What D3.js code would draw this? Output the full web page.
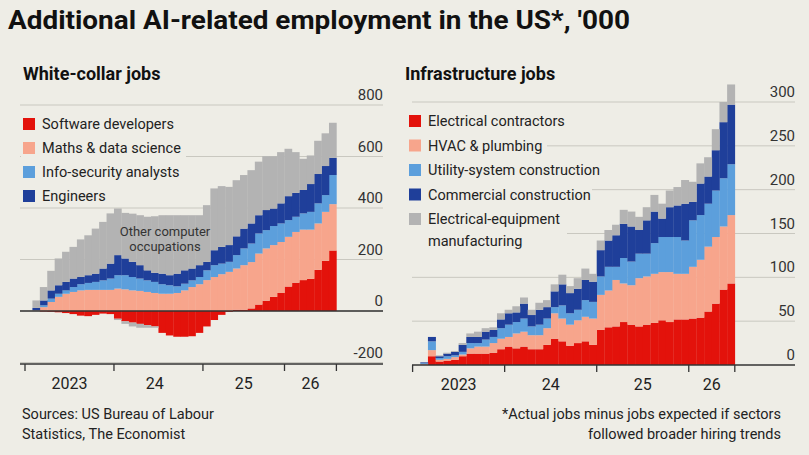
<!DOCTYPE html>
<html><head><meta charset="utf-8">
<script src="https://cdn.jsdelivr.net/npm/d3@7"></script>
<style>body{margin:0;background:#eeede6;}svg{display:block;font-family:Roboto,"Noto Sans",sans-serif;}</style>
</head><body><svg id="c" width="809" height="455"></svg>
<script>
// ---- data (thousands), months 1..41 from Feb 2023 ----
const months = d3.range(1, 42);
// White-collar
const software = [0,-2,-3,-5,-8,-12,-18,-20,-15,-10,-12,-30,-40,-45,-50,-55,-60,-85,-95,-100,-100,-98,-85,-60,-35,-15,-3,5,5,10,25,40,55,70,95,110,120,125,160,195,235];
const maths = [2,15,35,55,67,74,80,82,82,82,82,87,84,80,78,74,70,67,67,70,80,93,104,120,132,143,152,160,173,180,198,203,201,198,193,197,196,191,180,190,180];
const infosec = [1,7,13,12,13,19,24,27,31,37,44,52,55,52,48,45,43,37,33,26,26,26,28,38,46,41,39,52,65,72,78,71,74,72,65,59,63,69,78,65,113];
const engineers = [9,19,32,33,33,33,28,30,32,46,58,78,65,59,52,39,35,41,39,49,52,46,46,33,58,65,65,73,77,78,71,78,68,78,93,93,91,108,114,113,67];
const otherComp = [29,52,76,104,117,123,146,155,175,181,195,181,177,187,194,208,220,227,233,227,214,207,194,220,240,236,226,218,208,207,208,209,203,199,184,158,121,111,129,127,136];
const otherCompNeg = [0,0,0,0,0,0,0,0,0,0,0,-5,-10,-15,-15,-10,-5,0,0,0,0,0,0,0,0,0,0,0,0,0,0,0,0,0,0,0,0,0,0,0,0];
// Infrastructure
const electrical = [0,10,4,5,6,10,13,13,13,14,18,21,19,21,18,18,23,30,27,22,25,27,23,40,43,44,49,46,44,46,48,51,49,52,52,53,54,61,70,86,93];
const hvac = [1,7,2,2,3,2,6,8,8,11,12,11,17,17,16,16,19,29,26,24,26,28,30,40,42,53,44,45,55,55,56,55,57,52,52,59,66,74,76,72,78];
const utility = [1,10,2,3,2,3,6,4,8,7,12,14,13,15,10,12,11,7,15,13,12,19,19,21,27,15,29,27,28,26,35,40,40,42,38,53,51,49,53,55,58];
const commercial = [1,5,2,3,4,8,7,7,9,8,10,13,11,17,13,17,13,18,24,23,24,23,23,30,30,36,39,40,27,38,36,21,34,36,42,21,36,31,46,64,68];
const elecEquip = [0,0,1,1,1,2,4,6,4,3,7,4,7,7,6,8,8,8,11,8,12,13,9,11,12,12,16,17,15,15,19,17,19,21,27,23,23,22,24,23,23];

const leftTicks = [{m:0},{m:12},{m:24},{m:35},{m:42}];
const leftTickLabels = [{t:"2023",m:6},{t:"24",m:17.5},{t:"25",m:29.5},{t:"26",m:38.5}];
const rightTicks = [0,12,24,36,42];
const rightTickLabels = [{t:"2023",m:6},{t:"24",m:18},{t:"25",m:30},{t:"26",m:39}];
const leftY = [800,600,400,200,0,-200];
const rightY = [300,250,200,150,100,50,0];

const C = {red:"#e3120b",salmon:"#f7a58c",lblue:"#5c9fdc",dblue:"#1f3f9a",grey:"#b3b3b3"};

const svg = d3.select("#c");
svg.append("text").attr("x",8).attr("y",29).attr("font-size",26).attr("font-weight",700)
  .attr("fill","#111").attr("textLength",622).attr("lengthAdjust","spacingAndGlyphs")
  .text("Additional AI-related employment in the US*, '000");

function panel(o){
  const g = svg.append("g");
  const x = d3.scaleLinear().domain([0,42]).range(o.xr);
  const y = d3.scaleLinear().domain(o.yd).range(o.yr);
  // gridlines
  o.yticks.forEach(v=>{
    if(v!==o.axisAt){
      g.append("line").attr("x1",o.gx[0]).attr("x2",o.gx[1]).attr("y1",y(v)).attr("y2",y(v)).attr("stroke","#c9c8c0").attr("stroke-width",1);
    }
    g.append("text").attr("x",o.gx[1]).attr("y",y(v)-5).attr("text-anchor","end").attr("font-size",15).attr("fill","#333").text(v);
  });
  // legend bg + items
  const lg = g.append("g");
  o.legend.forEach((l,i)=>{
    const yy = o.ly + i*o.ldy;
    lg.append("rect").attr("x",o.lx-2).attr("y",yy-11).attr("width",l.w).attr("height",(l.t2?42:22)).attr("fill","#eeede6");
  });
  // stacks
  const data = months.map((m,i)=>{const d={m}; o.series.forEach(s=>d[s.k]=s.v[i]); return d;});
  const stack = d3.stack().keys(o.series.map(s=>s.k)).offset(d3.stackOffsetDiverging)(data);
  stack.forEach((layer,li)=>{
    g.append("g").attr("fill",o.series[li].c).selectAll("rect").data(layer).join("rect")
      .attr("x",d=>x(d.data.m)).attr("width",d=>x(d.data.m+1)-x(d.data.m)+0.3)
      .attr("y",d=>y(Math.max(d[0],d[1]))).attr("height",d=>Math.abs(y(d[0])-y(d[1])));
  });
  // axis line
  const base = o.axisLine;
  g.append("line").attr("x1",o.gx[0]).attr("x2",o.gx[1]).attr("y1",base).attr("y2",base).attr("stroke","#333").attr("stroke-width",1.3);
  if(o.zeroLine) g.append("line").attr("x1",o.gx[0]).attr("x2",o.gx[1]).attr("y1",y(0)).attr("y2",y(0)).attr("stroke","#333").attr("stroke-width",1.3);
  o.xt.forEach(m=>g.append("line").attr("x1",x(m)).attr("x2",x(m)).attr("y1",base).attr("y2",base+7).attr("stroke","#333").attr("stroke-width",1.3));
  o.xl.forEach(l=>g.append("text").attr("x",x(l.m)).attr("y",base+25).attr("text-anchor","middle").attr("font-size",16).attr("fill","#222").text(l.t));
  o.legend.forEach((l,i)=>{
    const yy = o.ly + i*o.ldy;
    g.append("rect").attr("x",o.lx).attr("y",yy-6).attr("width",12).attr("height",12).attr("fill",l.c);
    g.append("text").attr("x",o.lx+19).attr("y",yy+5).attr("font-size",14.5).attr("fill","#222").text(l.t);
    if(l.t2) g.append("text").attr("x",o.lx+19).attr("y",yy+27).attr("font-size",14.5).attr("fill","#222").text(l.t2);
  });
  return {x,y,g};
}

svg.append("text").attr("x",23).attr("y",80).attr("font-size",18).attr("font-weight",700).attr("fill","#111").text("White-collar jobs");
svg.append("text").attr("x",405).attr("y",80).attr("font-size",18).attr("font-weight",700).attr("fill","#111").text("Infrastructure jobs");

const L = panel({xr:[25,336.4],yd:[0,800],yr:[311,105],gx:[20,383],yticks:leftY,axisAt:null,axisLine:364,zeroLine:true,
  series:[{k:"sw",v:software,c:C.red},{k:"ma",v:maths,c:C.salmon},{k:"is",v:infosec,c:C.lblue},{k:"en",v:engineers,c:C.dblue},{k:"ot",v:otherComp,c:C.grey},{k:"on",v:otherCompNeg,c:C.grey}],
  xt:leftTicks.map(d=>d.m),xl:leftTickLabels,lx:23,ly:124,ldy:24,
  legend:[{t:"Software developers",c:C.red,w:160},{t:"Maths & data science",c:C.salmon,w:165},{t:"Info-security analysts",c:C.lblue,w:165},{t:"Engineers",c:C.dblue,w:90}]});
L.g.append("text").attr("x",165).attr("y",236).attr("text-anchor","middle").attr("font-size",13).attr("fill","#333").text("Other computer");
L.g.append("text").attr("x",165).attr("y",251).attr("text-anchor","middle").attr("font-size",13).attr("fill","#333").text("occupations");

const R = panel({xr:[412.6,734.8],yd:[0,300],yr:[365,102],gx:[412,795],yticks:rightY,axisAt:0,axisLine:365,zeroLine:false,
  series:[{k:"el",v:electrical,c:C.red},{k:"hv",v:hvac,c:C.salmon},{k:"ut",v:utility,c:C.lblue},{k:"co",v:commercial,c:C.dblue},{k:"ee",v:elecEquip,c:C.grey}],
  xt:rightTicks,xl:rightTickLabels,lx:409,ly:121,ldy:24.5,
  legend:[{t:"Electrical contractors",c:C.red,w:165},{t:"HVAC & plumbing",c:C.salmon,w:140},{t:"Utility-system construction",c:C.lblue,w:200},{t:"Commercial construction",c:C.dblue,w:185},{t:"Electrical-equipment",t2:"manufacturing",c:C.grey,w:160}]});

svg.append("text").attr("x",22).attr("y",419).attr("font-size",14.5).attr("fill","#222").text("Sources: US Bureau of Labour");
svg.append("text").attr("x",22).attr("y",439).attr("font-size",14.5).attr("fill","#222").text("Statistics,  The Economist");
svg.append("text").attr("x",781).attr("y",419).attr("text-anchor","end").attr("font-size",14.5).attr("fill","#222").text("*Actual jobs minus jobs expected if sectors");
svg.append("text").attr("x",781).attr("y",439).attr("text-anchor","end").attr("font-size",14.5).attr("fill","#222").text("followed broader hiring trends");
</script></body></html>
